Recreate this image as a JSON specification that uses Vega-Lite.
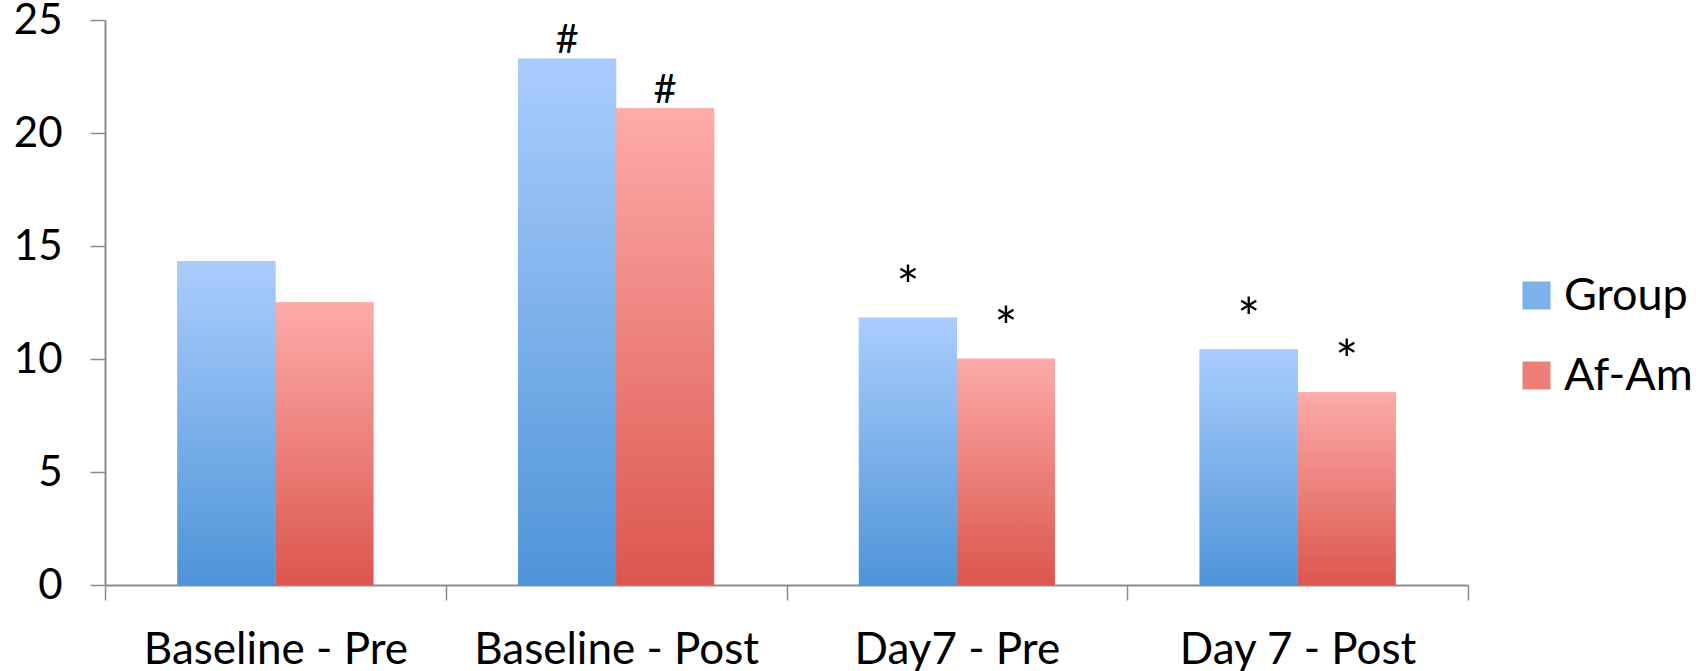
{
  "$schema": "https://vega.github.io/schema/vega-lite/v6.json",
  "autosize": "none",
  "width": 1363,
  "height": 565,
  "padding": {"left": 105, "top": 20, "right": 228, "bottom": 86},
  "background": "white",
  "config": {"view": {"stroke": null}, "font": "Lato"},
  "data": {
    "values": [
      {"category": "Baseline - Pre", "series": "Group", "value": 14.32, "note": ""},
      {"category": "Baseline - Pre", "series": "Af-Am", "value": 12.5, "note": ""},
      {"category": "Baseline - Post", "series": "Group", "value": 23.29, "note": "#"},
      {"category": "Baseline - Post", "series": "Af-Am", "value": 21.08, "note": "#"},
      {"category": "Day7 - Pre", "series": "Group", "value": 11.82, "note": "*"},
      {"category": "Day7 - Pre", "series": "Af-Am", "value": 10.01, "note": "*"},
      {"category": "Day 7 - Post", "series": "Group", "value": 10.42, "note": "*"},
      {"category": "Day 7 - Post", "series": "Af-Am", "value": 8.52, "note": "*"}
    ]
  },
  "encoding": {
    "x": {
      "field": "category", "type": "nominal", "sort": null,
      "scale": {"paddingInner": 0, "paddingOuter": 0},
      "axis": {
        "title": null, "labelAngle": 0, "labelFont": "Lato", "labelFontSize": 44, "labelColor": "black", "labelLimit": 400,
        "domainColor": "#8c8c8c", "domainWidth": 2, "tickColor": "#8c8c8c", "tickWidth": 1.5, "tickSize": 15,
        "tickBand": "extent", "labelPadding": 28, "grid": false
      }
    },
    "xOffset": {"field": "series", "type": "nominal", "sort": ["Group", "Af-Am"], "scale": {"paddingInner": 0, "paddingOuter": 0.7385}},
    "y": {
      "field": "value", "type": "quantitative",
      "scale": {"domain": [0, 25], "nice": false},
      "axis": {
        "title": null, "values": [0, 5, 10, 15, 20, 25], "labelFont": "Lato", "labelFontSize": 42, "labelColor": "black",
        "domainColor": "#8c8c8c", "domainWidth": 2, "tickColor": "#8c8c8c", "tickWidth": 1.5, "tickSize": 15,
        "labelPadding": 28, "grid": false
      }
    }
  },
  "layer": [
    {
      "mark": {"type": "bar"},
      "encoding": {
        "color": {
          "field": "series", "type": "nominal",
          "scale": {"domain": ["Group", "Af-Am"], "range": ["#7cb1eb", "#ec8079"]},
          "legend": {
            "title": null, "orient": "none", "legendX": 1409, "legendY": 253,
            "symbolType": "square", "symbolSize": 784, "symbolStrokeWidth": 0,
            "labelFont": "Lato", "labelFontSize": 45, "labelColor": "black", "labelOffset": 5,
            "rowPadding": 34, "labelLimit": 300,
            "encode": {
              "symbols": {
                "update": {
                  "fill": {"value": {"expr": "datum.value == 'Group' ? {gradient: 'linear', x1: 0, y1: 0, x2: 0, y2: 1, stops: [{offset: 0, color: '#aacdfd'}, {offset: 1, color: '#4e94d8'}]} : {gradient: 'linear', x1: 0, y1: 0, x2: 0, y2: 1, stops: [{offset: 0, color: '#fdaba9'}, {offset: 1, color: '#dc564e'}]}"}}
                }
              }
            }
          }
        }
      }
    },
    {
      "transform": [{"filter": "datum.series == 'Group'"}],
      "mark": {"type": "bar", "color": {"gradient": "linear", "x1": 0, "y1": 0, "x2": 0, "y2": 1, "stops": [{"offset": 0, "color": "#aacdfd"}, {"offset": 1, "color": "#4e94d8"}]}}
    },
    {
      "transform": [{"filter": "datum.series == 'Af-Am'"}],
      "mark": {"type": "bar", "color": {"gradient": "linear", "x1": 0, "y1": 0, "x2": 0, "y2": 1, "stops": [{"offset": 0, "color": "#fdaba9"}, {"offset": 1, "color": "#dc564e"}]}}
    },
    {
      "transform": [{"filter": "datum.note == '#'"}],
      "mark": {"type": "text", "baseline": "alphabetic", "dy": -6, "font": "Lato", "fontSize": 40, "color": "black"},
      "encoding": {"text": {"field": "note"}}
    },
    {
      "transform": [{"filter": "datum.note == '*'"}],
      "mark": {"type": "text", "baseline": "alphabetic", "dy": -13, "font": "Lato", "fontSize": 54, "color": "black"},
      "encoding": {"text": {"field": "note"}}
    }
  ]
}
